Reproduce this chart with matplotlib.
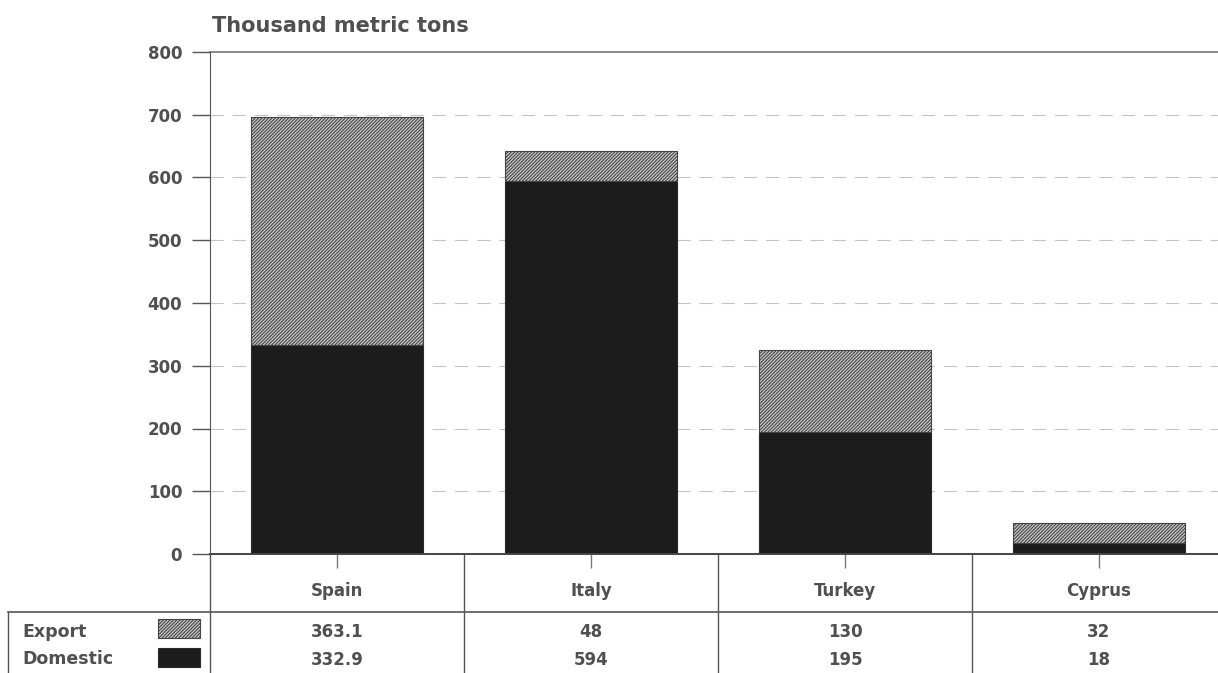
import matplotlib.pyplot as plt
import matplotlib.transforms as mtransforms
from matplotlib.patches import Rectangle

countries = ['Spain', 'Italy', 'Turkey', 'Cyprus']
domestic = [332.9, 594, 195, 18]
export = [363.1, 48, 130, 32]
export_labels = ['363.1', '48', '130', '32']
domestic_labels = ['332.9', '594', '195', '18']

plt.rcParams['font.family'] = ['DejaVu Sans']
plt.rcParams['font.weight'] = 'bold'
plt.rcParams['hatch.linewidth'] = 0.8
plt.rcParams['hatch.color'] = '#666666'

W, H = 1218, 673
fig = plt.figure(figsize=(W / 100, H / 100), dpi=100)


def fy(py):
    return 1 - py / H


def fx(px):
    return px / W


# category width ~254 px, the last column runs a bit past the right edge
ax = fig.add_axes([fx(210), fy(554), fx(4 * 254), fy(52) - fy(554)])
txt = '#505050'
exp_face = '#cacaca'
dom_face = '#1c1c1c'
hatch = '/' * 10

x = range(len(countries))
ax.bar(x, domestic, width=0.68, color=dom_face, edgecolor='#2a2a2a', linewidth=0.8, zorder=3)
ax.bar(x, export, width=0.68, bottom=domestic, color=exp_face, edgecolor='#444444',
       hatch=hatch, linewidth=0.8, zorder=3)

ax.set_xlim(-0.5, 3.5)
ax.set_ylim(0, 800)
ax.set_yticks(range(0, 801, 100))
ax.tick_params(axis='y', length=13, width=1, color='#555555', labelsize=12,
               labelcolor=txt, pad=7)
ax.set_xticks(list(x))
ax.tick_params(axis='x', length=10, width=1, color='#777777', labelbottom=False)
for s in ['right', 'top', 'bottom']:
    ax.spines[s].set_visible(False)
ax.spines['left'].set_color('#555555')
ax.grid(axis='y', color='#c4c4c4', linestyle=(0, (12, 8)), linewidth=0.8, zorder=0)
gl = ax.yaxis.get_gridlines()
gl[0].set_visible(False)
gl[-1].set_visible(False)
ax.axhline(800, color='#6a6a6a', linewidth=1.1, zorder=1, clip_on=False)
ax.axhline(0, color='#444444', linewidth=1.4, zorder=4, clip_on=False)

fig.text(fx(212), fy(32), 'Thousand metric tons', fontsize=15, color=txt,
         va='baseline', ha='left')

# data table under the chart
tr = mtransforms.blended_transform_factory(ax.transData, fig.transFigure)
lc = '#555555'
for b in [-0.5, 0.5, 1.5, 2.5]:
    ax.plot([b, b], [fy(554), fy(673)], color=lc, lw=1, transform=tr, clip_on=False)
fig.add_artist(plt.Line2D([fx(8), 1], [fy(612), fy(612)], color=lc, lw=1.2))
fig.add_artist(plt.Line2D([fx(8), fx(8)], [fy(612), fy(673)], color=lc, lw=1))

for i, c in enumerate(countries):
    ax.text(i, fy(591), c, transform=tr, ha='center', va='center', fontsize=12, color=txt)
    ax.text(i, fy(632), export_labels[i], transform=tr, ha='center', va='center',
            fontsize=12, color=txt)
    ax.text(i, fy(660), domestic_labels[i], transform=tr, ha='center', va='center',
            fontsize=12, color=txt)

fig.text(fx(22), fy(632), 'Export', fontsize=12.5, color=txt, va='center', ha='left')
fig.text(fx(22), fy(659), 'Domestic', fontsize=12.5, color=txt, va='center', ha='left')
fig.add_artist(Rectangle((fx(158), fy(638)), fx(42), fy(619) - fy(638), transform=fig.transFigure,
                         facecolor=exp_face, edgecolor='#444444', hatch=hatch, lw=0.8))
fig.add_artist(Rectangle((fx(158), fy(667)), fx(42), fy(648) - fy(667), transform=fig.transFigure,
                         facecolor=dom_face, edgecolor='#2a2a2a', lw=0.8))

fig.savefig('out.png', dpi=100)
